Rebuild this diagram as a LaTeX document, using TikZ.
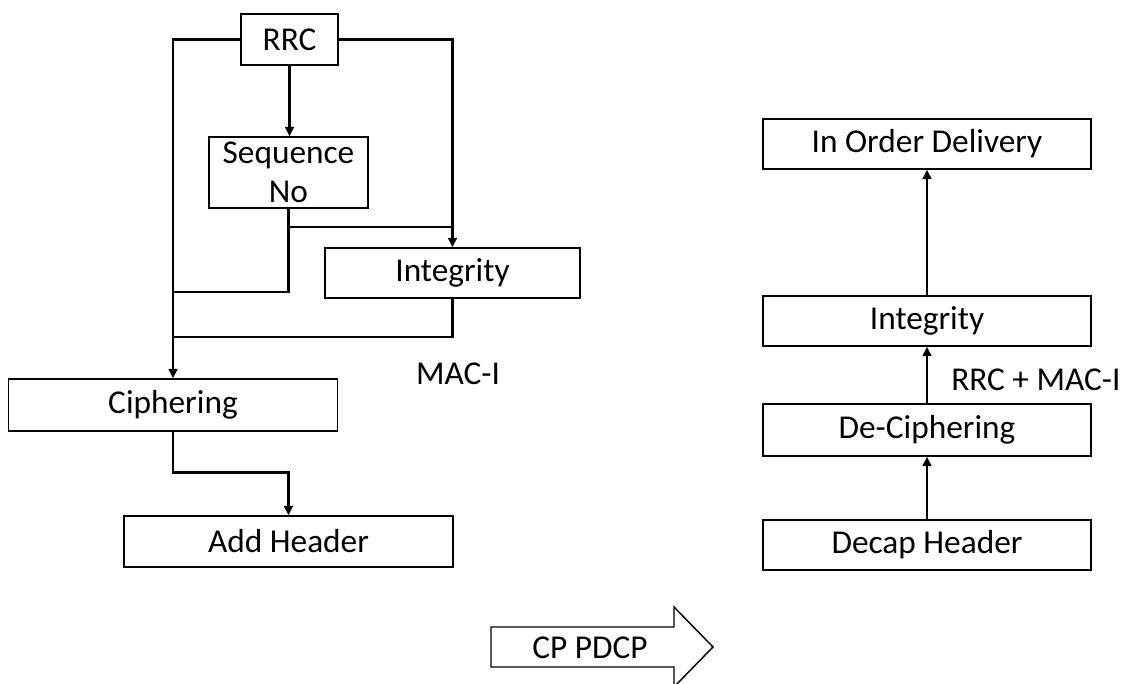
\documentclass[tikz,border=0pt]{standalone}
\usepackage{fontspec}
\setmainfont{Carlito}
\usetikzlibrary{arrows.meta}
\tikzset{blk/.style={draw, line width=1.1pt, inner sep=0pt, align=center,
    font=\fontsize{25}{29}\selectfont},
  wire/.style={line width=2pt},
  feed/.style={wire, -{Triangle[width=6.5pt,length=7pt]}},
  tag/.style={inner sep=0pt, font=\fontsize{25}{29}\selectfont}}
\begin{document}
\begin{tikzpicture}[x=0.75pt, y=-0.75pt]
\useasboundingbox (0,0) rectangle (1122,684);
% transmit side
\node[blk, minimum width=72.75pt, minimum height=38.25pt] (rrc) at (289.5,39.5) {RRC};
\node[blk, minimum width=119.25pt, minimum height=53.25pt] (seq) at (288.5,172.5) {Sequence\\No};
\node[blk, minimum width=191.25pt, minimum height=37.5pt] (intl) at (452.5,273) {Integrity};
\node[blk, minimum width=246.75pt, minimum height=39pt] (ciph) at (173,405) {Ciphering};
\node[blk, minimum width=246.75pt, minimum height=38.25pt] (addh) at (288.5,541.5) {Add Header};
\node[tag] (maci) at (458,373.5) {MAC-I};
\coordinate (seqtap) at (288.5,227);
\coordinate (rrctap) at (452.5,227);
\coordinate (leftA) at (173,292);
\coordinate (leftB) at (173,337);
\draw[feed] (rrc.west) -| (ciph.north);
\draw[feed] (rrc.east) -| (intl.north);
\draw[feed] (rrc.south) -- (rrc.south |- seq.north);
\draw[wire] (seq.south) |- (leftA);
\draw[wire] (seqtap) -- (rrctap);
\draw[wire] (intl.south) |- (leftB);
\draw[feed] (ciph.south) -- ++(0,41) -| (addh.north);
% receive side
\node[blk, minimum width=246pt, minimum height=37.5pt] (iod) at (927,144) {In Order Delivery};
\node[blk, minimum width=246pt, minimum height=37.5pt] (intr) at (927,321) {Integrity};
\node[blk, minimum width=246pt, minimum height=39pt] (dec) at (927,430) {De-Ciphering};
\node[blk, minimum width=246pt, minimum height=37.5pt] (decap) at (927,545) {Decap Header};
\node[tag, anchor=west] (rrcmac) at (951,380) {RRC + MAC-I};
\draw[feed] (decap.north) -- (dec.south);
\draw[feed] (dec.north) -- (intr.south);
\draw[feed] (intr.north) -- (iod.south);
% block arrow
\draw[line width=1.1pt] (491,627) -- (674,627) -- (674,607) -- (713,647)
  -- (674,687) -- (674,667) -- (491,667) -- cycle;
\node[tag] (cp) at (590,647.5) {CP PDCP};
\end{tikzpicture}
\end{document}
